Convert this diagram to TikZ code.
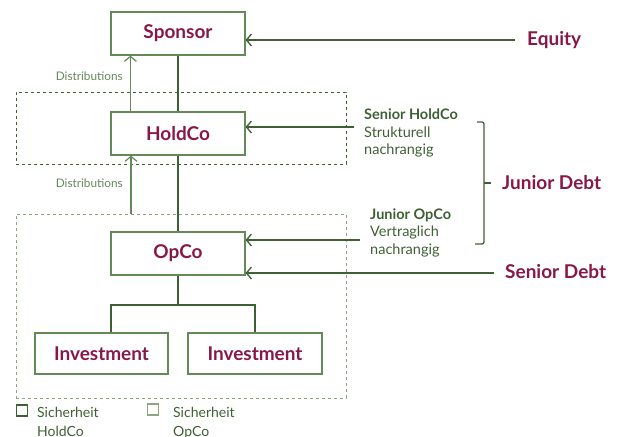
\documentclass[tikz,border=0pt]{standalone}
\usepackage{fontspec}
\setmainfont{Lato}
\usetikzlibrary{arrows.meta}
\definecolor{wine}{RGB}{136,24,74}
\definecolor{darkgreen}{RGB}{62,96,52}
\definecolor{boxgreen}{RGB}{100,138,90}
\definecolor{lightgreen}{RGB}{140,166,130}
\tikzset{
    entity/.style={draw=boxgreen, line width=1.2pt, minimum width=134pt, minimum height=43pt, inner sep=0pt,
        text=wine, font=\bfseries\fontsize{19}{22}\selectfont},
    frame/.style={dashed, line width=1pt, minimum width=330pt, inner sep=0pt},
    feed/.style={darkgreen, line width=1.3pt, -{Straight Barb[length=5pt,width=12pt]}},
    payout/.style={boxgreen, line width=1.2pt, -{Straight Barb[length=5pt,width=12pt]}},
    source/.style={text=wine, font=\bfseries\fontsize{19}{22}\selectfont, anchor=west, inner sep=0pt},
    note/.style={text=darkgreen, font=\fontsize{14.5}{17.5}\selectfont, align=left, anchor=north west, inner sep=0pt},
    distlabel/.style={text=boxgreen, font=\fontsize{11.8}{14}\selectfont, anchor=east, inner sep=0pt},
    legend/.style={draw, line width=1.2pt, minimum size=11pt, inner sep=0pt}
}
\begin{document}
\begin{tikzpicture}[x=1pt, y=-1pt]
    \useasboundingbox (0,0) rectangle (623,436);
    % frames round the two companies
    \node[frame, draw=darkgreen, minimum height=72pt] (holdfrm) at (181,128) {};
    \node[frame, draw=lightgreen, minimum height=184pt] (opfrm) at (181,306) {};
    % the companies
    \node[entity] (sponsor) at (178,33.5) {Sponsor};
    \node[entity] (holdco) at (178,133.5) {HoldCo};
    \node[entity] (opco) at (178,253.5) {OpCo};
    \node[entity, minimum width=133pt, minimum height=41pt] (inv1) at (101.5,353.5) {Investment};
    \node[entity, minimum width=134pt, minimum height=41pt] (inv2) at (255,353.5) {Investment};
    % ownership
    \draw[darkgreen, line width=1.2pt] (sponsor) -- (holdco);
    \draw[darkgreen, line width=1.2pt] (holdco) -- (opco);
    \coordinate (fork) at (178,305);
    \draw[darkgreen, line width=1.6pt] (opco) -- (fork);
    \draw[darkgreen, line width=1.2pt] ([xshift=9.5pt]inv1.north) |- (fork) -| (inv2.north);
    % distributions
    \draw[payout] ([xshift=20pt]holdco.north west) -- ([xshift=20pt]sponsor.south west);
    \coordinate (opout) at (131,214);
    \draw[payout] (opout) -- (opout |- holdco.south);
    \node[distlabel] (dist1) at (123,76) {Distributions};
    \node[distlabel] (dist2) at (123,183) {Distributions};
    % financing
    \node[source] (equity) at (527,40) {Equity};
    \coordinate (eqend) at (515,40);
    \draw[feed] (eqend) -- (sponsor.east |- eqend);
    \coordinate (shc) at (354,127);
    \draw[feed] (shc) -- (shc -| holdco.east);
    \coordinate (jop) at (360,240);
    \draw[feed] (jop) -- (jop -| opco.east);
    \node[source] (senior) at (505,272) {Senior Debt};
    \coordinate (sdend) at (494,273);
    \draw[feed] (sdend) -- (opco.east |- sdend);
    \node[note] (shtext) at (364,109) {\textbf{Senior HoldCo}\\Strukturell\\nachrangig};
    \node[note] (jotext) at (370,208.5) {\textbf{Junior OpCo}\\Vertraglich\\nachrangig};
    % junior debt bracket
    \draw[darkgreen, line width=1.3pt, rounded corners=2pt] (477,122) -- (484,122) -- (484,244) -- (475,244);
    \coordinate (tick) at (484,183);
    \node[source] (junior) at (502,183) {Junior Debt};
    \draw[darkgreen, line width=1.3pt] (tick) -- ++(7,0);
    % legend
    \node[legend, draw=darkgreen] (keyhold) at (22,410.5) {};
    \node[legend, draw=lightgreen] (keyop) at (153,409.5) {};
    \node[note, font=\fontsize{14}{19}\selectfont] (keyholdtxt) at (37,407) {Sicherheit\\HoldCo};
    \node[note, font=\fontsize{14}{19}\selectfont] (keyoptxt) at (173,407) {Sicherheit\\OpCo};
\end{tikzpicture}
\end{document}
